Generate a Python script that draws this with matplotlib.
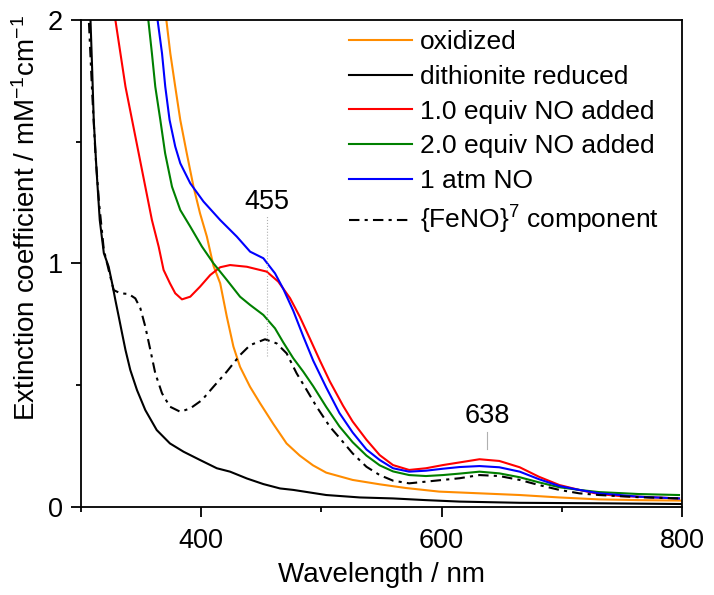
import matplotlib
matplotlib.use("Agg")
import matplotlib.pyplot as plt
from matplotlib.ticker import MultipleLocator

plt.rcParams['font.family'] = ['Liberation Sans', 'DejaVu Sans']
plt.rcParams['mathtext.fontset'] = 'custom'
plt.rcParams['mathtext.rm'] = 'Liberation Sans'
plt.rcParams['mathtext.it'] = 'Liberation Sans:italic'

# spectra (wavelength nm, extinction mM-1 cm-1)
ox_wl = [368, 371, 374.3, 378.4, 382.6, 388, 393.6, 399, 404.7, 410.2, 415.8,
         421.3, 426.8, 432.3, 440.6, 449, 460, 471, 482, 493, 504, 526,
         548.5, 570, 598, 631.5, 665, 698, 731, 764, 800]
ox_eps = [2.1, 2.0, 1.863, 1.726, 1.589, 1.452, 1.315, 1.206, 1.11, 0.99,
          0.918, 0.781, 0.658, 0.575, 0.493, 0.425, 0.34, 0.26, 0.21, 0.17,
          0.14, 0.11, 0.092, 0.077, 0.062, 0.055, 0.048, 0.038, 0.03, 0.027,
          0.025]

red_wl = [305, 307.9, 309.3, 310.6, 312.9, 315.6, 319, 323, 325.9, 328.6,
          331.4, 334.2, 337, 341, 346.6, 353.5, 363, 374, 385.3, 399, 413,
          424, 438, 451.7, 465.6, 476.6, 504, 532, 559.6, 587, 615, 665, 731,
          800]
red_eps = [2.4, 2.0, 1.795, 1.589, 1.384, 1.178, 1.042, 0.986, 0.918, 0.849,
           0.781, 0.712, 0.644, 0.562, 0.479, 0.397, 0.315, 0.26, 0.226,
           0.192, 0.158, 0.144, 0.116, 0.093, 0.075, 0.069, 0.048, 0.038,
           0.034, 0.027, 0.021, 0.016, 0.014, 0.011]

no1_wl = [324, 328.6, 332.8, 337, 342.5, 348, 353.5, 359, 364.6, 368.7, 374,
          378.4, 384, 390.9, 399, 407.5, 415.8, 424, 438, 454.5, 464.1, 473.9,
          482, 490.5, 498.8, 507, 518, 526, 537.5, 548.5, 559.6, 573, 587,
          601, 615, 631.5, 648, 665, 681, 698, 714.5, 731, 748, 764, 797.5]
no1_eps = [2.15, 2.0, 1.863, 1.726, 1.589, 1.452, 1.315, 1.178, 1.069, 0.973,
           0.918, 0.877, 0.852, 0.863, 0.904, 0.952, 0.984, 0.993, 0.986,
           0.966, 0.925, 0.857, 0.781, 0.69, 0.6, 0.515, 0.415, 0.35, 0.275,
           0.212, 0.171, 0.151, 0.158, 0.171, 0.182, 0.195, 0.188, 0.162,
           0.123, 0.089, 0.069, 0.052, 0.044, 0.041, 0.034]

no2_wl = [353, 356, 359, 361.8, 366, 370, 375.7, 382.6, 390.9, 400.6, 410.2,
          421.3, 432.3, 440.7, 451.7, 461.4, 468.3, 476.6, 484.9, 493.2,
          504, 515, 526, 537.5, 548.5, 559.6, 573, 587, 601, 615, 631.5, 648,
          665, 681, 698, 714.5, 731, 748, 764, 797.5]
no2_eps = [2.1, 2.0, 1.863, 1.726, 1.589, 1.452, 1.315, 1.219, 1.151, 1.069,
           1.0, 0.932, 0.863, 0.829, 0.788, 0.733, 0.675, 0.61, 0.555, 0.495,
           0.41, 0.33, 0.265, 0.21, 0.17, 0.145, 0.13, 0.126, 0.13, 0.136,
           0.144, 0.137, 0.121, 0.1, 0.08, 0.069, 0.06, 0.056, 0.052, 0.048]

atm_wl = [361, 363.7, 367.4, 370.1, 373.7, 378.4, 382.6, 390.9, 401.9, 415.8,
          429.6, 440.7, 451.7, 461.4, 468.3, 476.6, 484.9, 493.2, 504, 515,
          526, 537.5, 548.5, 559.6, 573, 587, 601, 615, 631.5, 648, 665, 681,
          698, 714.5, 731, 748, 764, 797.5]
atm_eps = [2.1, 2.0, 1.863, 1.726, 1.589, 1.48, 1.411, 1.329, 1.254, 1.178,
           1.11, 1.048, 1.021, 0.959, 0.895, 0.805, 0.7, 0.6, 0.49, 0.385,
           0.305, 0.235, 0.192, 0.158, 0.144, 0.148, 0.156, 0.163, 0.167,
           0.162, 0.144, 0.113, 0.085, 0.069, 0.055, 0.048, 0.041, 0.034]

feno_wl = [303, 306.5, 309.3, 312, 315, 319, 323, 327.2, 332.8, 339.7, 345.2,
           349.4, 353.5, 357.7, 361.8, 367.4, 374, 382.6, 390.9, 400.6, 410.2,
           421.3, 432.3, 440.7, 453.1, 462.8, 471.1, 479.4, 487.7, 496, 507,
           515.4, 526, 537.5, 548.5, 559.6, 573, 587, 615, 631.5, 648, 665,
           681, 698, 714.5, 731, 764, 797.5]
feno_eps = [2.4, 2.0, 1.7, 1.45, 1.25, 1.055, 0.973, 0.89, 0.877, 0.874,
            0.856, 0.815, 0.74, 0.644, 0.548, 0.466, 0.411, 0.39, 0.404,
            0.438, 0.493, 0.555, 0.623, 0.664, 0.688, 0.671, 0.63, 0.548,
            0.48, 0.411, 0.329, 0.281, 0.219, 0.164, 0.13, 0.107, 0.096,
            0.103, 0.117, 0.13, 0.126, 0.11, 0.089, 0.069, 0.055, 0.048,
            0.039, 0.034]

labels = ['oxidized', 'dithionite reduced', '1.0 equiv NO added',
          '2.0 equiv NO added', '1 atm NO', '{FeNO}$^7$ component']

fig = plt.figure(figsize=(7.14, 5.95), dpi=100)
ax = fig.add_axes([81 / 714, 1 - 506.7 / 595, 601 / 714, 486.7 / 595])

lw = 1.5
ax.plot(ox_wl, ox_eps, color='#ff8c00', lw=lw, label=labels[0])
ax.plot(red_wl, red_eps, color='black', lw=lw, label=labels[1])
ax.plot(no1_wl, no1_eps, color='#ff0000', lw=lw, label=labels[2])
ax.plot(no2_wl, no2_eps, color='#008000', lw=lw, label=labels[3])
ax.plot(atm_wl, atm_eps, color='#0000ff', lw=lw, label=labels[4])
ax.plot(feno_wl, feno_eps, color='black', lw=lw, ls=(0, (5, 2.5, 1.5, 2.5)),
        label=labels[5])

# peak markers
ax.plot([455, 455], [0.62, 1.2], color='#b0b0b0', lw=0.8, ls=':')
ax.text(455, 1.225, '455', ha='center', va='baseline', fontsize=19.5)
ax.plot([638, 638], [0.237, 0.306], color='#b0b0b0', lw=0.8)
ax.text(638, 0.345, '638', ha='center', va='baseline', fontsize=19.5)

ax.set_xlim(300, 800)
ax.set_ylim(0, 2)
ax.xaxis.set_major_locator(MultipleLocator(200))
ax.xaxis.set_minor_locator(MultipleLocator(100))
ax.yaxis.set_major_locator(MultipleLocator(1))
ax.yaxis.set_minor_locator(MultipleLocator(0.5))
ax.tick_params(which='both', direction='out', labelsize=19.5, width=1.3,
               top=False, right=False)
ax.tick_params(axis='x', which='both', pad=8)
ax.tick_params(axis='y', which='both', pad=6)
ax.tick_params(which='major', length=7.2)
ax.tick_params(which='minor', length=3.6)
for s in ax.spines.values():
    s.set_linewidth(1.3)

ax.set_xlabel('Wavelength / nm', fontsize=20, va='center')
ax.xaxis.set_label_coords(0.5, (506.7 - 575) / 486.7)
ax.set_ylabel('Extinction coefficient / mM$^{-1}$cm$^{-1}$', fontsize=20,
              va='center')
ax.yaxis.set_label_coords((27 - 81) / 601, (506.7 - 218) / 486.7)

ax.legend(loc='upper left', bbox_to_anchor=(349 / 714, 1 - 30 / 595),
          bbox_transform=fig.transFigure, frameon=False, fontsize=19,
          handlelength=2.4, handletextpad=0.3, labelspacing=0.41,
          borderpad=0, borderaxespad=0)

fig.savefig('out.png', dpi=100)
